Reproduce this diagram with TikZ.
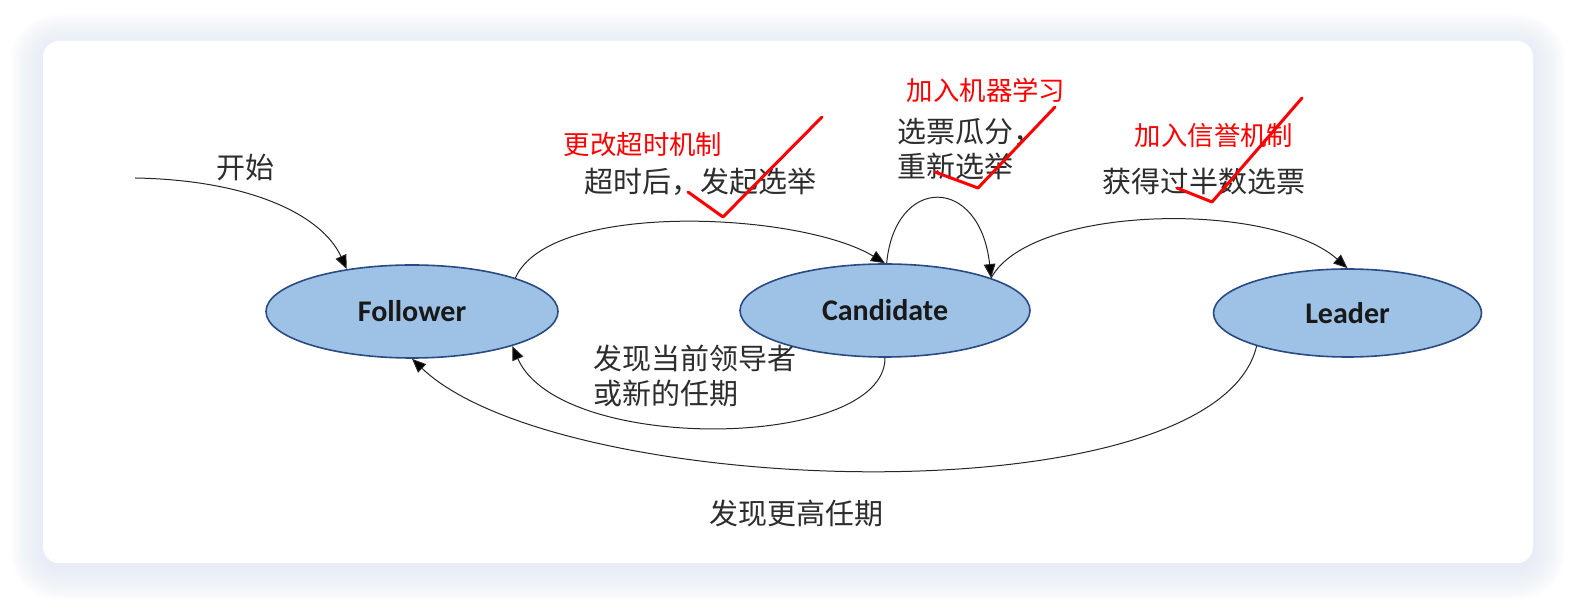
\documentclass[tikz,border=0pt]{standalone}
\usepackage{fontspec}
\usetikzlibrary{shapes, arrows.meta, positioning, calc}
\newfontfamily\cjk{Noto Sans CJK SC}
\newfontfamily\latn{Carlito}
\definecolor{fillblue}{RGB}{157, 194, 230}
\definecolor{edgeblue}{RGB}{42, 74, 132}
\definecolor{glow}{RGB}{218, 227, 247}
\definecolor{txtgray}{RGB}{45, 45, 45}
\definecolor{redink}{RGB}{255, 0, 0}

\begin{document}
\begin{tikzpicture}[x=0.5pt, y=-0.5pt,
  stnode/.style={ellipse, draw=edgeblue, line width=0.8pt, fill=fillblue, inner sep=0pt, font=\latn\bfseries\fontsize{15}{18}\selectfont, text=black!90},
  lbl/.style={font=\cjk\fontsize{14.5}{17.5}\selectfont, text=txtgray, inner sep=0pt},
  redlbl/.style={font=\cjk\fontsize{13.2}{16}\selectfont, text=redink, inner sep=0pt},
  arr/.style={draw=black!85, line width=0.5pt, -{Triangle[length=7pt, width=5.8pt, fill=black]}},
  chk/.style={draw=redink, line width=1.5pt, line cap=round, line join=round}]
  \useasboundingbox[fill=white] (0,0) rectangle (1588,613);
  \foreach \d [evaluate=\d as \r using 8+\d/2] in {2,4,...,32}
    \fill[glow, opacity=0.045, rounded corners=\r pt] ({43-\d},{46-\d}) rectangle ({1533+\d},{568+\d});
  \fill[white, rounded corners=8pt] (43,41) rectangle (1533,563);

  \node[stnode, minimum width=146pt, minimum height=46.5pt] (fol) at (412,311.5) {Follower};
  \node[stnode, minimum width=145pt, minimum height=46.5pt] (cand) at (885,310.5) {Candidate};
  \node[stnode, minimum width=134pt, minimum height=44pt] (ldr) at (1347.5,313) {Leader};

  \coordinate (start) at (135,178);
  \draw[arr] (start) .. controls (250,180) and (322,215) .. (fol.147);
  \draw[arr] (fol.18) .. controls (550,200) and (800,212) .. (cand.north);
  \draw[arr] (cand.88) .. controls (895,175) and (980,175) .. (cand.17);
  \draw[arr] (cand.17) .. controls (1030,205) and (1270,200) .. (ldr.north);
  \draw[arr] (cand.south) .. controls (885,450) and (560,455) .. (fol.-19);
  \draw[arr] (ldr.-160) .. controls (1215,520) and (560,500) .. (fol.south);

  \node[lbl] (l-start) at (245,168) {开始};
  \node[lbl] (l-timeout) at (700,182) {超时后，发起选举};
  \node[lbl, anchor=west, align=left] (l-split) at (897,149.5) {选票瓜分，\\重新选举};
  \node[lbl] (l-major) at (1204,182) {获得过半数选票};
  \node[lbl, anchor=west, align=left] (l-found) at (593,375.5) {发现当前领导者\\或新的任期};
  \node[lbl] (l-higher) at (796,513) {发现更高任期};

  \node[redlbl] (r-timeout) at (643,145) {更改超时机制};
  \node[redlbl] (r-ml) at (986,90) {加入机器学习};
  \node[redlbl] (r-credit) at (1214,136) {加入信誉机制};
  \draw[chk] (688,192) -- (723,217) -- (822,117);
  \draw[chk] (935,172) -- (978,188) -- (1055,107);
  \draw[chk] (1177,188) -- (1212,202) -- (1302,98);
\end{tikzpicture}
\end{document}
